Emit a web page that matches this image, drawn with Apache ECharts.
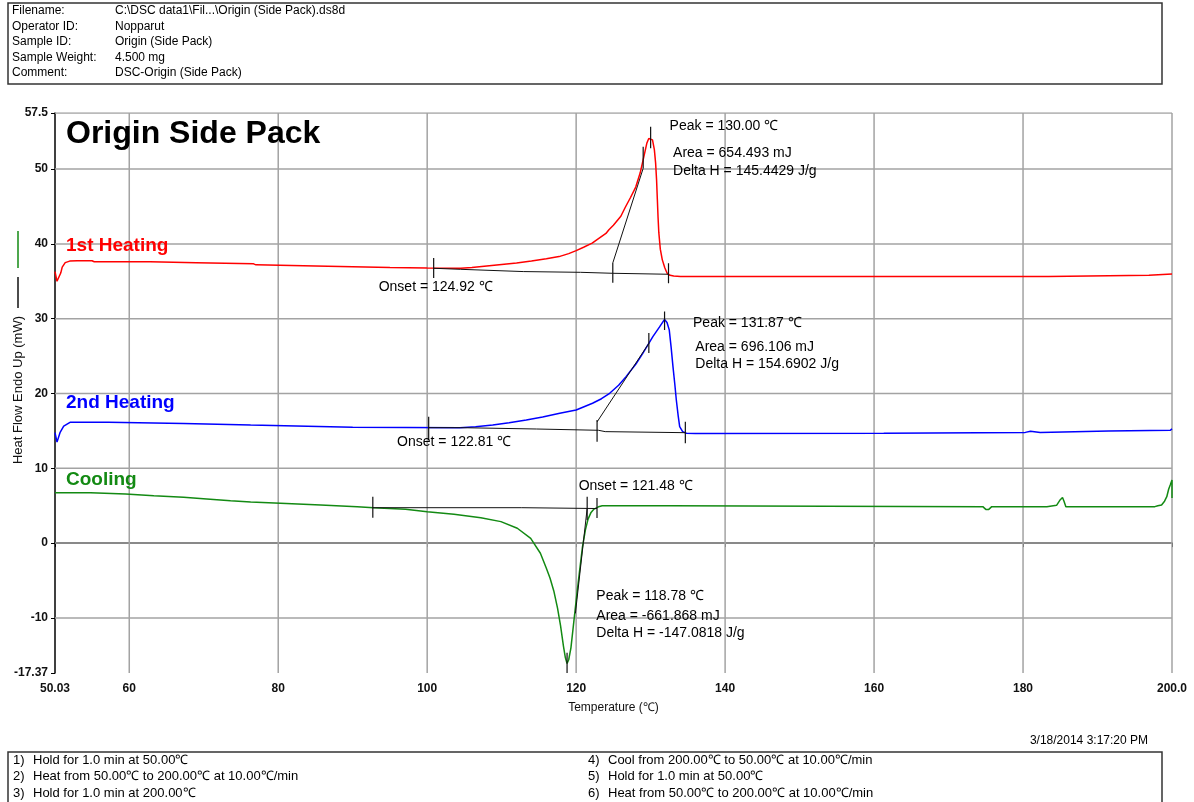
<!DOCTYPE html>
<html>
<head>
<meta charset="utf-8">
<script src="https://cdn.jsdelivr.net/npm/echarts@6/dist/echarts.min.js"></script>
<style>
  html, body { margin: 0; padding: 0; background: #fff; }
  #chart { width: 1194px; height: 802px; }
</style>
</head>
<body>
<div id="chart"></div>
<script>
// ---- DSC curves: [temperature (°C), heat flow (mW)] ----
const heat1 = [
  [50.03,36.3],[50.3,35.0],[50.5,35.2],[50.8,36.1],[51.0,36.9],[51.4,37.5],[52.0,37.7],[53.0,37.75],
  [55.0,37.75],[55.3,37.62],[62.8,37.62],[63.0,37.48],[69.0,37.48],[69.2,37.33],[76.7,37.33],[77.0,37.2],
  [85,37.05],[90,36.95],[95,36.85],[100,36.78],[104.5,36.75],[106,36.85],[108,37.05],[110,37.25],
  [112,37.45],[114,37.7],[116,38.0],[117.7,38.3],[119,38.7],[120,39.1],[121,39.55],[122.15,40.1],
  [123,40.7],[124,41.4],[124.4,41.9],[125,42.5],[126,43.7],[126.6,44.9],[127.3,46.2],[128,47.6],
  [128.6,49.5],[129.1,51.7],[129.5,53.5],[129.75,54.1],[130.0,54.2],[130.25,53.9],[130.5,52.6],
  [130.67,50.8],[130.8,48.5],[130.9,46.0],[131.0,43.5],[131.1,41.5],[131.3,39.3],[131.56,37.9],
  [131.9,36.8],[132.2,36.1],[132.6,35.8],[133.1,35.7],[134,35.65],[183.4,35.65],[183.5,35.8],
  [196.9,35.8],[197.0,35.95],[200,35.97]
];
const heat2 = [
  [50.03,14.76],[50.3,13.5],[50.7,14.76],[51.2,15.64],[52.1,16.17],[57.2,16.17],[57.4,16.0],[67.3,16.0],
  [67.5,15.78],[76.3,15.78],[76.5,15.56],[90,15.48],[104.4,15.43],[106.5,15.55],[108.8,15.79],[111,16.1],
  [113.3,16.46],[115.5,16.85],[117.8,17.35],[120.0,17.8],[122.2,18.69],[123.4,19.3],[124.5,20.03],
  [125.7,21.1],[126.7,22.25],[128.0,23.9],[128.95,25.37],[130.3,27.6],[131.2,28.9],[131.87,29.9],
  [132.2,29.5],[132.5,28.5],[132.75,26.2],[133.0,23.6],[133.25,21.2],[133.45,19.13],[133.7,17.0],
  [133.9,15.56],[134.3,14.9],[134.8,14.68],[136,14.65],[161.3,14.67],[161.5,14.8],[180.3,14.8],
  [180.5,14.95],[181.0,14.95],[181.2,14.8],[182.3,14.8],[182.5,14.98],[191.5,14.98],[191.7,15.1],
  [199.8,15.1],[200,15.28]
];
const cooling = [
  [50.03,6.74],[54.8,6.74],[55.0,6.56],[59.5,6.56],[59.7,6.34],[63.3,6.34],[63.5,6.12],[67.3,6.12],
  [67.5,5.9],[70.4,5.9],[70.6,5.67],[73.6,5.67],[73.8,5.49],[76.3,5.49],[76.5,5.32],[80.3,5.32],
  [85.7,5.09],[90.6,4.87],[92.8,4.73],[97.1,4.52],[100.0,4.2],[103.6,3.85],[107.2,3.4],[109.9,2.87],
  [112.1,1.98],[113.9,0.64],[115.2,-1.36],[116.0,-3.37],[116.5,-4.7],[117.0,-6.4],[117.5,-8.7],
  [117.9,-11.0],[118.3,-13.8],[118.55,-15.3],[118.78,-16.1],[119.0,-15.6],[119.3,-14.0],[119.7,-10.4],
  [120.1,-6.8],[120.45,-3.8],[120.85,-0.5],[121.25,1.8],[121.6,3.2],[122.0,4.1],[122.4,4.55],
  [123.0,4.85],[123.5,5.0],[132.7,5.0],[132.9,4.87],[174.6,4.87],[175.0,4.5],[175.4,4.5],[175.8,4.87],
  [183.2,4.87],[183.4,5.0],[184.5,5.05],[185.0,5.8],[185.3,6.1],[185.5,5.6],[185.75,4.87],[197.7,4.87],
  [198.1,5.0],[198.6,5.1],[199.0,5.6],[199.3,6.2],[199.55,7.2],[199.76,7.77],[200.0,8.44],[200.0,6.03]
];

// ---- peak analysis results ----
const peakTemps  = [130.00, 131.87, 118.78];   // 1st heating, 2nd heating, cooling
const onsetTemps = [124.92, 122.81, 121.48];
const areas      = ['654.493', '696.106', '-661.868'];
const deltaHs    = ['145.4429', '154.6902', '-147.0818'];

// integration baselines
const heat1Base = [[100.87,36.74],[104.5,36.6],[112.9,36.3],[120.6,36.2],[124.92,36.07],[132.4,35.94]];
const heat2Base = [[100.2,15.43],[104.45,15.43],[104.5,15.25],[114.7,15.25],[114.8,15.08],[123.0,15.08],[123.9,14.9],[134.66,14.76]];
const coolBase  = [[92.7,4.73],[112.7,4.73],[112.8,4.62],[122.8,4.62]];

// onset tangents
const heat1Tangent = [[onsetTemps[0],37.45],[129.0,50.1]];
const heat2Tangent = [[onsetTemps[1],16.2],[129.76,26.7]];
const coolTangent  = [[119.9,-9.4],[onsetTemps[2],4.65]];

// marker ticks: [temperature, low mW, high mW]
const heat1Ticks = [[100.87,35.45,38.1],[onsetTemps[0],34.8,37.45],[129.0,50.1,53.0],[peakTemps[0],52.8,55.67],[132.4,34.75,37.4]];
const heat2Ticks = [[100.2,13.78,16.9],[onsetTemps[1],13.56,16.46],[129.76,25.4,28.1],[peakTemps[1],28.5,30.95],[134.66,13.34,16.23]];
const coolTicks  = [[92.7,3.4,6.2],[peakTemps[2],-17.37,-14.65],[onsetTemps[2],3.09,6.2],[122.8,3.36,6.03]];

// ---- axes ----
const xMin = 50.03, xMax = 200;
const yMin = -17.37, yMax = 57.5;
const xTickValues = [50.03, 60, 80, 100, 120, 140, 160, 180, 200];
const yTickValues = [-17.37, -10, 0, 10, 20, 30, 40, 50, 57.5];
const xGridValues = [60, 80, 100, 120, 140, 160, 180, 200];
const yGridValues = [-10, 0, 10, 20, 30, 40, 50, 57.5];

// ---- report text ----
const headerLabels = ['Filename:', 'Operator ID:', 'Sample ID:', 'Sample Weight:', 'Comment:'];
const headerValues = ['C:\\DSC data1\\Fil...\\Origin (Side Pack).ds8d', 'Nopparut', 'Origin (Side Pack)', '4.500 mg', 'DSC-Origin (Side Pack)'];
const methodSteps = [
  'Hold for 1.0 min at 50.00\u2103',
  'Heat from 50.00\u2103 to 200.00\u2103 at 10.00\u2103/min',
  'Hold for 1.0 min at 200.00\u2103',
  'Cool from 200.00\u2103 to 50.00\u2103 at 10.00\u2103/min',
  'Hold for 1.0 min at 50.00\u2103',
  'Heat from 50.00\u2103 to 200.00\u2103 at 10.00\u2103/min'
];
const runDate = '3/18/2014 3:17:20 PM';
const chartTitle = 'Origin Side Pack';
const curveNames = ['1st Heating', '2nd Heating', 'Cooling'];

// ---- styling ----
const FONT = '"Liberation Sans", Arial, Helvetica, sans-serif';
const RED = '#ff0000', BLUE = '#0000ff', GREEN = '#138a13';
const GRID_COLOR = '#a3a3a3';
const PLOT = { left: 55, top: 113, width: 1117, height: 560 };

function segment(points, color, width, z) {
  return {
    type: 'line', data: points, symbol: 'none', showSymbol: false, silent: true,
    animation: false, z: z, clip: true,
    lineStyle: { color: color, width: width }
  };
}

const series = [];
// grid lines
xGridValues.forEach(v => series.push(segment([[v, yMin], [v, yMax]], GRID_COLOR, 1.5, 1)));
yGridValues.forEach(v => series.push(segment([[xMin, v], [xMax, v]], GRID_COLOR, 1.5, 1)));
// curves
series.push(segment(heat1, RED, 1.5, 3));
series.push(segment(heat2, BLUE, 1.5, 3));
series.push(segment(cooling, GREEN, 1.5, 3));
// baselines and tangents
[heat1Base, heat2Base, coolBase, heat1Tangent, heat2Tangent, coolTangent]
  .forEach(p => series.push(segment(p, '#111', 1, 4)));
// ticks
[].concat(heat1Ticks, heat2Ticks, coolTicks)
  .forEach(t => series.push(segment([[t[0], t[1]], [t[0], t[2]]], '#111', 1.2, 4)));

// analysis annotations anchored in data space
const noteAnchors = [
  [132.55, 55.76], [133.01, 52.11], [133.01, 49.75], [93.49, 34.28],
  [135.69, 29.47], [136.0, 26.26], [136.0, 23.9], [95.96, 13.48],
  [120.34, 7.63], [122.71, -7.07], [122.71, -9.71], [122.71, -12.06]
];
const noteTexts = [];
[0, 1].forEach(i => {
  noteTexts.push('Peak = ' + peakTemps[i].toFixed(2) + ' \u2103');
  noteTexts.push('Area = ' + areas[i] + ' mJ');
  noteTexts.push('Delta H = ' + deltaHs[i] + ' J/g');
  noteTexts.push('Onset = ' + onsetTemps[i].toFixed(2) + ' \u2103');
});
noteTexts.push('Onset = ' + onsetTemps[2].toFixed(2) + ' \u2103');
noteTexts.push('Peak = ' + peakTemps[2].toFixed(2) + ' \u2103');
noteTexts.push('Area = ' + areas[2] + ' mJ');
noteTexts.push('Delta H = ' + deltaHs[2] + ' J/g');

series.push({
  type: 'scatter', silent: true, animation: false, z: 6,
  symbolSize: 0, itemStyle: { color: '#000', opacity: 1 },
  data: noteAnchors.map((p, i) => ({ value: p, name: noteTexts[i] })),
  label: {
    show: true, position: 'right', distance: 0, formatter: '{b}', opacity: 1,
    color: '#000', fontSize: 14, fontFamily: FONT
  }
});

// ---- report frame graphics ----
const graphics = [];
graphics.push({ type: 'rect', shape: { x: 8, y: 3, width: 1154, height: 81 },
  style: { fill: '#fff', stroke: '#333', lineWidth: 1.5 }, z: 0 });
headerLabels.forEach((t, i) => {
  const y = 11 + i * 15.5;
  graphics.push({ type: 'text', x: 12, y: y, style: { text: t, font: '12px ' + FONT, fill: '#000', textVerticalAlign: 'middle' } });
  graphics.push({ type: 'text', x: 115, y: y, style: { text: headerValues[i], font: '12px ' + FONT, fill: '#000', textVerticalAlign: 'middle' } });
});
graphics.push({ type: 'text', x: 66, y: 134, z: 10,
  style: { text: chartTitle, font: 'bold 32px ' + FONT, fill: '#000', textVerticalAlign: 'middle' } });
[[RED, 245.5], [BLUE, 402.3], [GREEN, 479.3]].forEach((c, i) => {
  graphics.push({ type: 'text', x: 66, y: c[1], z: 10,
    style: { text: curveNames[i], font: 'bold 19px ' + FONT, fill: c[0], textVerticalAlign: 'middle' } });
});
// y axis title with trace keys
graphics.push({ type: 'text', x: 18, y: 390, rotation: Math.PI / 2,
  style: { text: 'Heat Flow Endo Up (mW)', font: '13px ' + FONT, fill: '#111', textAlign: 'center', textVerticalAlign: 'middle' } });
graphics.push({ type: 'line', shape: { x1: 18, y1: 231, x2: 18, y2: 268 }, style: { stroke: GREEN, lineWidth: 1.5 } });
graphics.push({ type: 'line', shape: { x1: 18, y1: 277, x2: 18, y2: 308 }, style: { stroke: '#111', lineWidth: 1.5 } });
// run timestamp and method
graphics.push({ type: 'text', x: 1148, y: 741,
  style: { text: runDate, font: '12px ' + FONT, fill: '#000', textAlign: 'right', textVerticalAlign: 'middle' } });
graphics.push({ type: 'rect', shape: { x: 8, y: 752, width: 1154, height: 60 },
  style: { fill: '#fff', stroke: '#333', lineWidth: 1.5 } });
methodSteps.forEach((t, i) => {
  const col = i < 3 ? 0 : 1;
  const row = i % 3;
  const x0 = col === 0 ? 13 : 588;
  const y = 760 + row * 16.7;
  graphics.push({ type: 'text', x: x0, y: y, style: { text: (i + 1) + ')', font: '13px ' + FONT, fill: '#000', textVerticalAlign: 'middle' } });
  graphics.push({ type: 'text', x: x0 + 20, y: y, style: { text: t, font: '13px ' + FONT, fill: '#000', textVerticalAlign: 'middle' } });
});

const chart = echarts.init(document.getElementById('chart'), null, { renderer: 'canvas' });
chart.setOption({
  animation: false,
  backgroundColor: '#fff',
  grid: { left: PLOT.left, top: PLOT.top, width: PLOT.width, height: PLOT.height, containLabel: false },
  xAxis: {
    type: 'value', min: xMin, max: xMax,
    name: 'Temperature (\u2103)', nameLocation: 'middle', nameGap: 29,
    nameTextStyle: { color: '#111', fontSize: 12, fontFamily: FONT },
    axisLine: { show: true, lineStyle: { color: '#000', width: 1.5 } },
    axisTick: { show: true, length: 4, customValues: xTickValues, lineStyle: { color: '#000' } },
    axisLabel: {
      customValues: xTickValues, margin: 10, color: '#111', fontSize: 12, fontWeight: 'bold', fontFamily: FONT,
      formatter: v => (v === 200 ? '200.0' : String(v))
    },
    splitLine: { show: false }
  },
  yAxis: {
    type: 'value', min: yMin, max: yMax,
    axisLine: { show: true, lineStyle: { color: '#000', width: 1.5 } },
    axisTick: { show: true, length: 4, customValues: yTickValues, lineStyle: { color: '#000' } },
    axisLabel: {
      customValues: yTickValues, margin: 7, color: '#111', fontSize: 12, fontWeight: 'bold', fontFamily: FONT,
      formatter: v => String(v)
    },
    splitLine: { show: false }
  },
  series: series,
  graphic: { elements: graphics }
});
</script>
</body>
</html>
